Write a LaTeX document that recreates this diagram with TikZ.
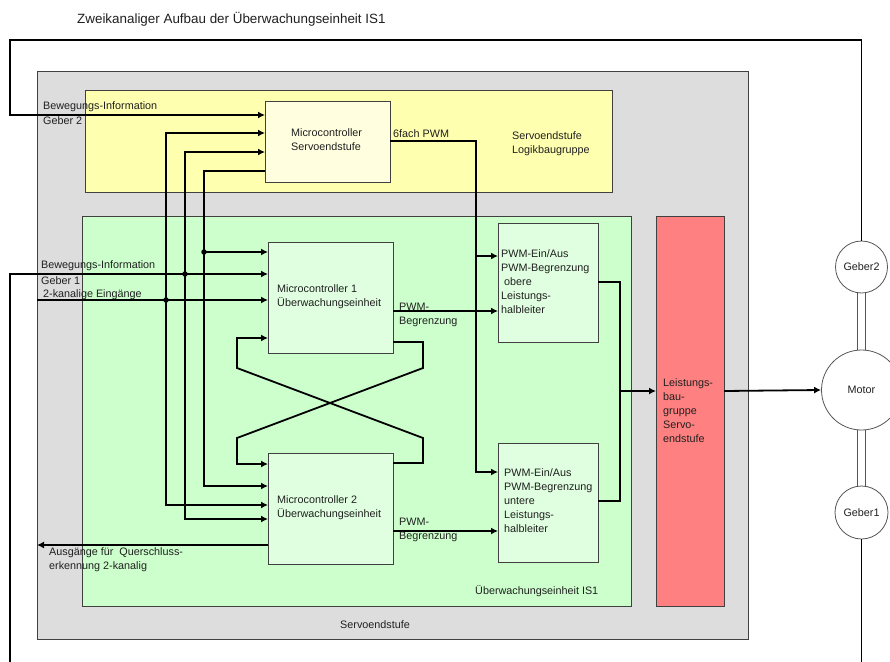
\documentclass[tikz,border=0pt]{standalone}
\usepackage{fontspec}
\setmainfont{Liberation Sans}
\usetikzlibrary{arrows.meta}
\definecolor{graybg}{HTML}{DDDDDD}
\definecolor{yellowbg}{HTML}{FFFFB0}
\definecolor{mcsfill}{HTML}{FFFFE0}
\definecolor{greenbg}{HTML}{CCFFCC}
\definecolor{mcfill}{HTML}{E0FFE0}
\definecolor{redbox}{HTML}{FF8080}
\definecolor{edge}{HTML}{404040}
\definecolor{ringc}{HTML}{555555}
\definecolor{txt}{HTML}{202020}
\newcommand\lblfont{\fontsize{10.8}{14}\selectfont}
\begin{document}
\begin{tikzpicture}[x=1pt,y=-1pt,
  box/.style={draw=edge, line width=0.8pt, anchor=north west, inner sep=0pt, outer sep=0pt},
  wire/.style={line width=1.8pt, draw=black},
  arr/.style={wire, -{Latex[length=7pt,width=7pt]}},
  lbl/.style={anchor=west, inner sep=0pt, font=\lblfont, align=left, text=txt},
  dot/.style={circle, fill=black, inner sep=0pt, minimum size=5.5pt},
  ring/.style={circle, draw=ringc, fill=white, line width=0.8pt, inner sep=0pt, font=\lblfont, text=txt},
  shaft/.style={draw=ringc, line width=0.8pt}
]
\useasboundingbox (0,0) rectangle (890,661);
\clip (0,0) rectangle (890,661);
\fill[white] (0,0) rectangle (890,661);

% title
\node[anchor=west, inner sep=0pt, font=\fontsize{13.4}{16}\selectfont, text=txt] (title) at (77,19) {Zweikanaliger Aufbau der Überwachungseinheit IS1};

% group boxes
\node[box, fill=graybg, minimum width=711pt, minimum height=568pt] (servo) at (37,71) {};
\node[box, fill=yellowbg, minimum width=527pt, minimum height=102pt] (logik) at (85,90) {};
\node[box, fill=greenbg, minimum width=549pt, minimum height=390pt] (ueb) at (82,216) {};
\node[box, fill=redbox, minimum width=68pt, minimum height=390pt] (leist) at (656,216) {};

% blocks
\node[box, fill=mcsfill, minimum width=125pt, minimum height=81pt] (mcs) at (265,101) {};
\node[box, fill=mcfill, minimum width=125pt, minimum height=111pt] (mc1) at (268,242) {};
\node[box, fill=mcfill, minimum width=125pt, minimum height=111pt] (mc2) at (268,453) {};
\node[box, fill=mcfill, minimum width=100pt, minimum height=119pt] (obere) at (498,223) {};
\node[box, fill=mcfill, minimum width=100pt, minimum height=119pt] (untere) at (498,443) {};

% motor and encoders
\coordinate (g2c) at (861.5,267);
\coordinate (motorc) at (861.5,390);
\coordinate (g1c) at (861.5,512.5);
\draw[shaft] ([xshift=-4pt]g2c) -- ([xshift=-4pt]motorc);
\draw[shaft] ([xshift=4pt]g2c) -- ([xshift=4pt]motorc);
\draw[shaft] ([xshift=-4pt]motorc) -- ([xshift=-4pt]g1c);
\draw[shaft] ([xshift=4pt]motorc) -- ([xshift=4pt]g1c);
\node[ring, minimum size=52pt] (g2) at (g2c) {Geber2};
\node[ring, minimum size=80pt] (motor) at (motorc) {Motor};
\node[ring, minimum size=53pt] (g1) at (g1c) {Geber1};

% junction dots
\node[dot] (j166) at (166,300) {};
\node[dot] (j185) at (185,274) {};
\node[dot] (j204) at (204,252) {};

% encoder feedback lines
\draw[arr] (g2.north) -- (861.5,40) -- (10,40) -- (10,115) -- (mcs.west |- 0,115);
\draw[arr] (g1.south) -- (861.5,700) -- (10,700) -- (10,274) -- (mc1.west |- 0,274);

% inputs
\draw[arr] (37,300) -- (mc1.west |- 0,300);
\draw[arr] (j166.center) |- (mcs.west |- 0,133);
\draw[arr] (j166.center) |- (mc2.west |- 0,505);
\draw[arr] (j185.center) |- (mcs.west |- 0,152);
\draw[arr] (j185.center) |- (mc2.west |- 0,519);
\draw[wire] (mcs.west |- 0,171) -| (j204.center);
\draw[arr] (j204.center) -- (mc1.west |- 0,252);
\draw[arr] (j204.center) |- (mc2.west |- 0,486);

% cross-coupling
\draw[arr] (mc1.east |- 0,342) -- (423,342) -- (423,368) -- (237,438) -- (237,464) -- (mc2.west |- 0,464);
\draw[arr] (mc2.east |- 0,463) -- (423,463) -- (423,438) -- (237,368) -- (237,338) -- (mc1.west |- 0,338);

% outputs
\draw[arr] (mc2.west |- 0,545) -- (37,545);
\draw[arr] (mc1.east |- 0,311) -- (obere.west |- 0,311);
\draw[arr] (mc2.east |- 0,531) -- (untere.west |- 0,531);
\draw[wire] (mcs.east |- 0,141) -| (476,256);
\draw[arr] (476,256) -- (obere.west |- 0,256);
\draw[arr] (476,256) |- (untere.west |- 0,472);
\draw[wire] (obere.east |- 0,282) -| (620,391);
\draw[wire] (untere.east |- 0,501) -| (620,391);
\draw[arr] (620,391) -- (leist.west |- 0,391);
\draw[arr] (leist.east |- 0,391) -- (motor.west);

% labels
\node[lbl] (lg2) at (43,107) {Bewegungs-Information};
\node[lbl] (lg2b) at (43,121) {Geber 2};
\node[lbl] (lmcs) at (291,140) {Microcontroller\\Servoendstufe};
\node[lbl] (l6) at (393,134) {6fach PWM};
\node[lbl] (llog) at (512,144) {Servoendstufe\\Logikbaugruppe};
\node[lbl] (lg1) at (41,266) {Bewegungs-Information};
\node[lbl] (lg1b) at (41,281) {Geber 1};
\node[lbl] (l2k) at (43,295) {2-kanalige Eingänge};
\node[lbl] (lmc1) at (277,297) {Microcontroller 1\\Überwachungseinheit};
\node[lbl] (lp1) at (399,315) {PWM-\\Begrenzung};
\node[lbl] (lob) at (501,282) {PWM-Ein/Aus\\PWM-Begrenzung\\\ obere\\Leistungs-\\halbleiter};
\node[lbl] (lun) at (504,501) {PWM-Ein/Aus\\PWM-Begrenzung\\untere\\Leistungs-\\halbleiter};
\node[lbl] (lmc2) at (277,508) {Microcontroller 2\\Überwachungseinheit};
\node[lbl] (lp2) at (399,530) {PWM-\\Begrenzung};
\node[lbl] (laus) at (49,560) {Ausgänge für\ \ Querschluss-\\erkennung 2-kanalig};
\node[lbl] (lueb) at (475,591) {Überwachungseinheit IS1};
\node[lbl] (lserv) at (340,625) {Servoendstufe};
\node[lbl] (lleist) at (663,411) {Leistungs-\\bau-\\gruppe\\Servo-\\endstufe};
\end{tikzpicture}
\end{document}
